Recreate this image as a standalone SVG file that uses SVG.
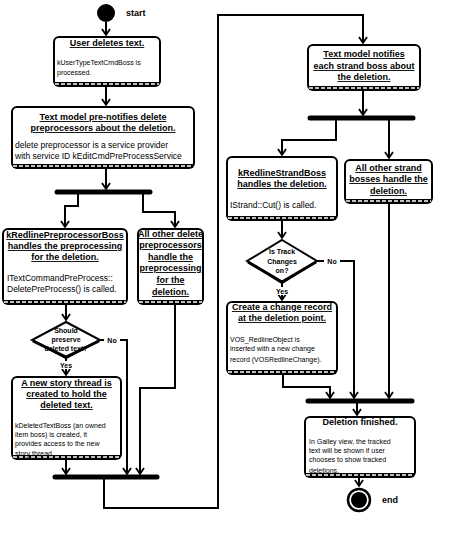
<svg xmlns="http://www.w3.org/2000/svg" width="462" height="535" viewBox="0 0 462 535">
<defs>
<style>
.box{fill:#fff;stroke:#000;stroke-width:2}
.band{stroke:#000;stroke-width:4;fill:none}
.dash{stroke:#fff;stroke-width:1.4;stroke-dasharray:4 2;fill:none}
.bar{stroke:#000;stroke-width:5;stroke-linecap:round}
.ln{fill:none;stroke:#000;stroke-width:2}
.t{font-family:"Liberation Sans",Arial,sans-serif;font-size:9px;font-weight:bold;text-anchor:middle;text-decoration:underline}
.tn{font-family:"Liberation Sans",Arial,sans-serif;font-size:9px;font-weight:bold;text-anchor:middle}
.s{font-family:"Liberation Sans",Arial,sans-serif;font-size:7px}
.m{font-family:"Liberation Sans",Arial,sans-serif;font-size:8.5px}
.d{font-family:"Liberation Sans",Arial,sans-serif;font-size:7px;text-anchor:middle}
.dia{fill:#fff;stroke:#000;stroke-width:2}
</style>
<marker id="ah" markerUnits="userSpaceOnUse" markerWidth="10" markerHeight="10" viewBox="0 0 10 10" refX="8" refY="5" orient="auto">
<path d="M2,1 L8,5 L2,9" fill="none" stroke="#000" stroke-width="1.8"/>
</marker>
</defs>
<rect width="462" height="535" fill="#fff"/>

<g id="connectors">
<path class="ln" d="M106,22 V35" marker-end="url(#ah)"/>
<path class="ln" d="M106,87 V105" marker-end="url(#ah)"/>
<path class="ln" d="M106,168 V189" marker-end="url(#ah)"/>
<path class="ln" d="M78,192 V206 H65 V227" marker-end="url(#ah)"/>
<path class="ln" d="M143,192 V212 H175 V227" marker-end="url(#ah)"/>
<path class="ln" d="M66,304 V320" marker-end="url(#ah)"/>
<path class="ln" d="M66,358 V375" marker-end="url(#ah)"/>
<path class="ln" d="M100,340 H127 V474" marker-end="url(#ah)"/>
<path class="ln" d="M175,304 V388 H140 V474" marker-end="url(#ah)"/>
<path class="ln" d="M66,459 V474" marker-end="url(#ah)"/>
<path class="ln" d="M104,477 V508 H218 V15 H363 V43" marker-end="url(#ah)"/>
<path class="ln" d="M363,90 V115" marker-end="url(#ah)"/>
<path class="ln" d="M336,118 V140 H282 V155" marker-end="url(#ah)"/>
<path class="ln" d="M389,118 V158" marker-end="url(#ah)"/>
<path class="ln" d="M282,220 V238" marker-end="url(#ah)"/>
<path class="ln" d="M282,283 V300" marker-end="url(#ah)"/>
<path class="ln" d="M317,261 H354 V398" marker-end="url(#ah)"/>
<path class="ln" d="M389,203 V398" marker-end="url(#ah)"/>
<path class="ln" d="M283,374 V387 H330 V398" marker-end="url(#ah)"/>
<path class="ln" d="M357,401 V415" marker-end="url(#ah)"/>
<path class="ln" d="M359,478 V486" marker-end="url(#ah)"/>
<line class="bar" x1="57" y1="192" x2="150" y2="192"/>
<line class="bar" x1="55" y1="477" x2="157" y2="477"/>
<line class="bar" x1="310" y1="118" x2="413" y2="118"/>
<line class="bar" x1="308" y1="401" x2="412" y2="401"/>
<rect x="104" y="336" width="16" height="9" fill="#fff"/>
<text class="d" x="112" y="343" font-weight="bold">No</text>
<rect x="58" y="361" width="16" height="8" fill="#fff"/>
<text class="d" x="66" y="368" font-weight="bold">Yes</text>
<rect x="324" y="257" width="16" height="9" fill="#fff"/>
<text class="d" x="332" y="264" font-weight="bold">No</text>
<rect x="274" y="287" width="16" height="8" fill="#fff"/>
<text class="d" x="282" y="294" font-weight="bold">Yes</text>
</g>

<g id="start">
<circle cx="106" cy="13" r="9" fill="#000"/>
<text class="tn" x="126" y="16" text-anchor="start" style="text-anchor:start">start</text>
</g>

<g id="user-deletes">
<rect class="box" x="54" y="37" width="106" height="49" rx="5"/>
<line class="band" x1="55" y1="84" x2="159" y2="84"/>
<line class="dash" x1="55" y1="84" x2="159" y2="84"/>
<text class="t" x="107" y="46">User deletes text.</text>
<text class="s" x="57" y="65">kUserTypeTextCmdBoss is</text>
<text class="s" x="57" y="75">processed.</text>
</g>

<g id="prenotify">
<rect class="box" x="12" y="107" width="182" height="61" rx="5"/>
<line class="band" x1="13" y1="166" x2="193" y2="166"/>
<line class="dash" x1="13" y1="166" x2="193" y2="166"/>
<text class="t" x="103" y="120">Text model pre-notifies delete</text>
<text class="t" x="103" y="131">preprocessors about the deletion.</text>
<text class="m" x="15" y="148">delete preprocessor is a service provider</text>
<text class="m" x="15" y="159">with service ID kEditCmdPreProcessService</text>
</g>

<g id="redline-preproc">
<rect class="box" x="3" y="229" width="124" height="75" rx="5"/>
<line class="band" x1="4" y1="302" x2="126" y2="302"/>
<line class="dash" x1="4" y1="302" x2="126" y2="302"/>
<text class="t" x="65" y="238">kRedlinePreprocessorBoss</text>
<text class="t" x="65" y="249">handles the preprocessing</text>
<text class="t" x="65" y="260">for the deletion.</text>
<text class="m" x="7" y="281">ITextCommandPreProcess::</text>
<text class="m" x="7" y="292">DeletePreProcess() is called.</text>
</g>

<g id="other-preproc">
<rect class="box" x="138" y="229" width="65" height="75" rx="5"/>
<line class="band" x1="139" y1="302" x2="202" y2="302"/>
<line class="dash" x1="139" y1="302" x2="202" y2="302"/>
<text class="t" x="170.5" y="237">All other delete</text>
<text class="t" x="170.5" y="248">preprocessors</text>
<text class="t" x="170.5" y="260">handle the</text>
<text class="t" x="170.5" y="271">preprocessing</text>
<text class="t" x="170.5" y="283">for the</text>
<text class="t" x="170.5" y="295">deletion.</text>
</g>

<g id="preserve-decision">
<polygon class="dia" points="66,322 100,340 66,358 32,340"/>
<path d="M33,341 L66,357 L99,341" fill="none" stroke="#000" stroke-width="3"/>
<text class="d" x="66" y="333" font-weight="bold">Should</text>
<text class="d" x="66" y="342" font-weight="bold">preserve</text>
<text class="d" x="66" y="351" font-weight="bold">deleted text?</text>
</g>

<g id="new-story">
<rect class="box" x="12" y="377" width="109" height="82" rx="5"/>
<line class="band" x1="13" y1="457" x2="120" y2="457"/>
<line class="dash" x1="13" y1="457" x2="120" y2="457"/>
<text class="t" x="66.5" y="386">A new story thread is</text>
<text class="t" x="66.5" y="397">created to hold the</text>
<text class="t" x="66.5" y="408">deleted text.</text>
<text class="s" x="15" y="428">kDeletedTextBoss (an owned</text>
<text class="s" x="15" y="437">item boss) is created, it</text>
<text class="s" x="15" y="446">provides access to the new</text>
<text class="s" x="15" y="456">story thread.</text>
</g>

<g id="notify-strands">
<rect class="box" x="308" y="45" width="112" height="45" rx="5"/>
<line class="band" x1="309" y1="88" x2="419" y2="88"/>
<line class="dash" x1="309" y1="88" x2="419" y2="88"/>
<text class="t" x="364" y="57">Text model notifies</text>
<text class="t" x="364" y="69">each strand boss about</text>
<text class="t" x="364" y="80">the deletion.</text>
</g>

<g id="redline-strand">
<rect class="box" x="227" y="157" width="110" height="63" rx="5"/>
<line class="band" x1="228" y1="218" x2="336" y2="218"/>
<line class="dash" x1="228" y1="218" x2="336" y2="218"/>
<text class="t" x="282" y="176">kRedlineStrandBoss</text>
<text class="t" x="282" y="187">handles the deletion.</text>
<text class="m" x="230" y="208">IStrand::Cut() is called.</text>
</g>

<g id="other-strand">
<rect class="box" x="345" y="160" width="87" height="43" rx="5"/>
<line class="band" x1="346" y1="201" x2="431" y2="201"/>
<line class="dash" x1="346" y1="201" x2="431" y2="201"/>
<text class="t" x="388.5" y="171">All other strand</text>
<text class="t" x="388.5" y="182">bosses handle the</text>
<text class="t" x="388.5" y="194">deletion.</text>
</g>

<g id="track-decision">
<polygon class="dia" points="282,240 317,261 282,283 247,261"/>
<path d="M248,262 L282,282 L316,262" fill="none" stroke="#000" stroke-width="3"/>
<text class="d" x="282" y="254" font-weight="bold">Is Track</text>
<text class="d" x="282" y="264" font-weight="bold">Changes</text>
<text class="d" x="282" y="273" font-weight="bold">on?</text>
</g>

<g id="change-record">
<rect class="box" x="227" y="302" width="110" height="72" rx="5"/>
<line class="band" x1="228" y1="372" x2="336" y2="372"/>
<line class="dash" x1="228" y1="372" x2="336" y2="372"/>
<text class="t" x="282" y="310">Create a change record</text>
<text class="t" x="282" y="321">at the deletion point.</text>
<text class="s" x="230" y="342">VOS_RedlineObject is</text>
<text class="s" x="230" y="351">inserted with a new change</text>
<text class="s" x="230" y="362">record (VOSRedlineChange).</text>
</g>

<g id="deletion-finished">
<rect class="box" x="305" y="417" width="110" height="60" rx="5"/>
<line class="band" x1="306" y1="475" x2="414" y2="475"/>
<line class="dash" x1="306" y1="475" x2="414" y2="475"/>
<text class="tn" x="360" y="425">Deletion finished.</text>
<text class="s" x="309" y="444">In Galley view, the tracked</text>
<text class="s" x="309" y="453">text will be shown if user</text>
<text class="s" x="309" y="462">chooses to show tracked</text>
<text class="s" x="309" y="473">deletions.</text>
</g>

<g id="end">
<circle cx="359" cy="500" r="11" fill="#fff" stroke="#000" stroke-width="2.5"/>
<circle cx="359" cy="500" r="8" fill="#000"/>
<text class="tn" x="382" y="503" style="text-anchor:start">end</text>
</g>
</svg>
